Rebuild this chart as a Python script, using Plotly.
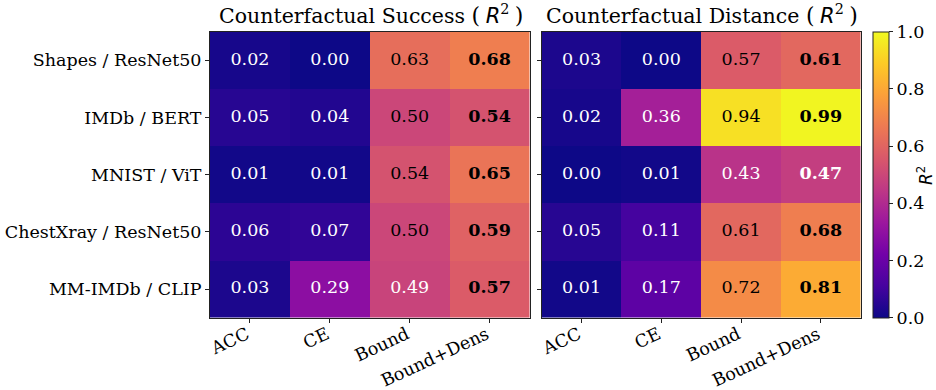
import plotly.graph_objects as go

# Methods (columns) and dataset / model pairs (rows)
methods = ["ACC", "CE", "Bound", "Bound+Dens"]
datasets = [
    "Shapes / ResNet50",
    "IMDb / BERT",
    "MNIST / ViT",
    "ChestXray / ResNet50",
    "MM-IMDb / CLIP",
]

# R^2 of counterfactual success
success_r2 = [
    [0.02, 0.00, 0.63, 0.68],
    [0.05, 0.04, 0.50, 0.54],
    [0.01, 0.01, 0.54, 0.65],
    [0.06, 0.07, 0.50, 0.59],
    [0.03, 0.29, 0.49, 0.57],
]

# R^2 of counterfactual distance
distance_r2 = [
    [0.03, 0.00, 0.57, 0.61],
    [0.02, 0.36, 0.94, 0.99],
    [0.00, 0.01, 0.43, 0.47],
    [0.05, 0.11, 0.61, 0.68],
    [0.01, 0.17, 0.72, 0.81],
]

titles = ["Counterfactual Success", "Counterfactual Distance"]
colorbar_ticks = [0.0, 0.2, 0.4, 0.6, 0.8, 1.0]

W, H = 936, 390
SERIF = "DejaVu Serif"
SANS = "DejaVu Sans"
FS = 17.5

panels = [
    dict(x0=210.0, x1=529.5),
    dict(x0=541.7, x1=860.7),
]
y_top, y_bot = 31.7, 317.7

fig = go.Figure()

for k, (matrix, panel) in enumerate(zip([success_r2, distance_r2], panels)):
    xa = "x" if k == 0 else "x2"
    ya = "y" if k == 0 else "y2"
    fig.add_trace(go.Heatmap(
        z=matrix, x=methods, y=datasets,
        colorscale="Plasma", zmin=0, zmax=1,
        xaxis=xa, yaxis=ya,
        showscale=(k == 1),
        colorbar=dict(
            x=873.3 / W, xanchor="left", xpad=0, ypad=0,
            y=1 - y_bot / H, yanchor="bottom",
            len=(y_bot - y_top) / H, lenmode="fraction",
            thickness=16, outlinewidth=1, outlinecolor="#222",
            tickvals=colorbar_ticks, tickformat=".1f",
            ticks="outside", ticklen=4, tickcolor="#222",
            tickfont=dict(family=SERIF, size=FS, color="black"),
        ),
        hoverinfo="skip",
    ))
    # Cell value labels: last column bold, light text on dark cells
    xs, ys, txt, cols = [], [], [], []
    for i, row in enumerate(matrix):
        for j, v in enumerate(row):
            xs.append(methods[j])
            ys.append(datasets[i])
            s = f"{v:.2f}"
            txt.append(f"<b>{s}</b>" if j == len(methods) - 1 else s)
            cols.append("white" if v < 0.5 else "black")
    fig.add_trace(go.Scatter(
        x=xs, y=ys, text=txt, mode="text",
        textfont=dict(family=SERIF, size=FS, color=cols),
        xaxis=xa, yaxis=ya, showlegend=False, hoverinfo="skip",
    ))
    # Panel title with an italic sans R^2
    r2 = (f"<span style='font-size:22px'>(&#8197;</span>"
          f"<span style='font-family:{SANS};font-size:21px'><i>R</i></span>"
          f"<sup>2</sup><span style='font-size:22px'>&#8197;)</span>")
    fig.add_annotation(
        x=(panel["x0"] + panel["x1"]) / 2 / W + 1 / W, y=1 - 15 / H,
        xref="paper", yref="paper", xanchor="center", yanchor="middle",
        text=f"{titles[k]} {r2}",
        showarrow=False,
        font=dict(family=SERIF, size=20.5, color="black"),
    )

axis_common = dict(
    showline=True, mirror=True, linecolor="#222", linewidth=1,
    ticks="outside", ticklen=4, tickcolor="#222",
    tickfont=dict(family=SERIF, size=FS, color="black"),
    showgrid=False, zeroline=False, automargin=False,
)
xtick_style = dict(tickangle=-25, ticklabelstandoff=-5, ticklabelshift=-3)

fig.update_layout(
    width=W, height=H,
    margin=dict(l=0, r=0, t=0, b=0, autoexpand=False),
    paper_bgcolor="white", plot_bgcolor="white",
    showlegend=False,
    xaxis=dict(domain=[panels[0]["x0"] / W, panels[0]["x1"] / W], anchor="y",
               **xtick_style, **axis_common),
    yaxis=dict(domain=[1 - y_bot / H, 1 - y_top / H], anchor="x",
               autorange="reversed", **axis_common),
    xaxis2=dict(domain=[panels[1]["x0"] / W, panels[1]["x1"] / W], anchor="y2",
                **xtick_style, **axis_common),
    yaxis2=dict(domain=[1 - y_bot / H, 1 - y_top / H], anchor="x2",
                autorange="reversed", showticklabels=False, **axis_common),
)

# Colorbar title
fig.add_annotation(
    x=925 / W, y=1 - 176 / H, xref="paper", yref="paper",
    xanchor="center", yanchor="middle", textangle=-90,
    text="<i>R</i><sup>2</sup>", showarrow=False,
    font=dict(family=SANS, size=17, color="black"),
)

fig.write_html("out.html")
